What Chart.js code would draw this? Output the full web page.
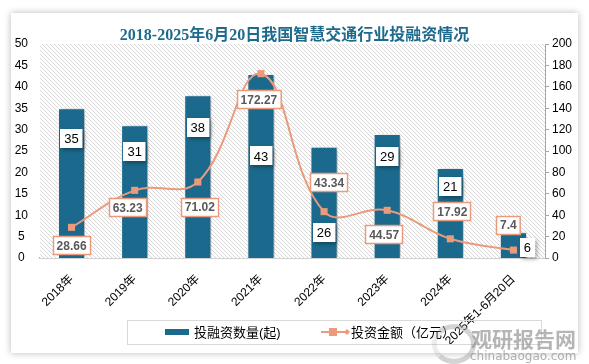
<!DOCTYPE html>
<html>
<head>
<meta charset="utf-8">
<script src="https://cdn.jsdelivr.net/npm/chart.js@4"></script>
<style>
  html, body { margin: 0; padding: 0; background: #ffffff; }
  body { width: 589px; height: 364px; position: relative; overflow: hidden; }
  #card { position: absolute; left: 11px; top: 13px; width: 567px; height: 340px; background: #fff;
          box-shadow: 0 0 7px rgba(0,0,0,0.28); }
  #wm0 { position: absolute; left: 432px; top: 324px; width: 34px; height: 30px; border-radius: 50%;
         border: 5px solid rgba(160,160,160,0.45); border-left-color: rgba(160,160,160,0.2); }
  #wm1 { position: absolute; left: 471px; top: 326px; font: bold 21px/24px "Noto Sans CJK SC"; color: rgba(150,150,150,0.7); }
  #wm2 { position: absolute; left: 470px; top: 350px; font: 12px/13px "DejaVu Sans"; color: rgba(150,150,150,0.75); }
</style>
</head>
<body>
<div id="card"><canvas id="myChart" width="567" height="340"></canvas></div>
<div id="wm0"></div>
<div id="wm1">观研报告网</div>
<div id="wm2">chinabaogao.com</div>
<script>
// chart data
const categories = ['2018年', '2019年', '2020年', '2021年', '2022年', '2023年', '2024年', '2025年1-6月20日'];
const dealCount = [35, 31, 38, 43, 26, 29, 21, 6];
const dealAmount = [28.66, 63.23, 71.02, 172.27, 43.34, 44.57, 17.92, 7.4];
const leftTicks = [0, 5, 10, 15, 20, 25, 30, 35, 40, 45, 50];
const rightTicks = [0, 20, 40, 60, 80, 100, 120, 140, 160, 180, 200];

// label placement (pixels)
const barLabelPos = [[0, 30], [0, 26], [0, 32], [0, 82], [0, 86], [0, 23], [0, 18], [14, 15]];
const lineLabelPos = [[0, 18], [-7, 17], [2, 25], [-2, 26], [5, -29], [-3, 24], [2, -27], [-5, -25]];

const barColor = '#1b6a8d';
const lineColor = '#eb9a7b';
const fontFamily = '"Liberation Sans", "Noto Sans CJK SC", sans-serif';

// striped plot background
function makeStripes(ctx) {
    const p = document.createElement('canvas');
    p.width = 4; p.height = 4;
    const c = p.getContext('2d');
    c.fillStyle = '#fff';
    c.fillRect(0, 0, 4, 4);
    c.strokeStyle = '#d6d6d6';
    c.lineWidth = 1;
    c.beginPath();
    c.moveTo(0, 0); c.lineTo(4, 4);
    c.moveTo(-1, 3); c.lineTo(1, 5);
    c.moveTo(3, -1); c.lineTo(5, 1);
    c.stroke();
    return ctx.createPattern(p, 'repeat');
}

function labelBox(ctx, text, cx, cy, opts) {
    ctx.font = opts.font;
    const w = ctx.measureText(text).width + opts.padX * 2;
    const h = opts.h;
    const x = Math.round(cx - w / 2), y = Math.round(cy - h / 2);
    ctx.save();
    if (opts.shadow) {
        ctx.shadowColor = 'rgba(0,0,0,0.35)';
        ctx.shadowBlur = 4;
        ctx.shadowOffsetX = 2;
        ctx.shadowOffsetY = 2;
    }
    ctx.fillStyle = '#fff';
    ctx.fillRect(x, y, w, h);
    ctx.restore();
    if (opts.border) {
        ctx.strokeStyle = opts.border;
        ctx.lineWidth = 1.5;
        ctx.strokeRect(x + 0.5, y + 0.5, w - 1, h - 1);
    }
    ctx.fillStyle = opts.color;
    ctx.textAlign = 'center';
    ctx.textBaseline = 'middle';
    ctx.fillText(text, cx, cy + 1);
}

const decorPlugin = {
    id: 'decor',
    beforeDatasetsDraw(chart) {
        const { ctx, chartArea: a } = chart;
        ctx.save();
        ctx.fillStyle = makeStripes(ctx);
        ctx.fillRect(a.left, a.top, a.right - a.left, a.bottom - a.top);
        ctx.restore();
    },
    beforeDatasetDraw(chart, args) {
        if (args.index === 0) {
            chart.ctx.save();
            chart.ctx.shadowColor = 'rgba(0,0,0,0.35)';
            chart.ctx.shadowBlur = 5;
            chart.ctx.shadowOffsetX = 2;
            chart.ctx.shadowOffsetY = 1;
        }
    },
    afterDatasetDraw(chart, args) {
        if (args.index === 0) chart.ctx.restore();
    },
    afterDatasetsDraw(chart) {
        const ctx = chart.ctx;
        ctx.save();
        chart.getDatasetMeta(0).data.forEach((bar, i) => {
            labelBox(ctx, String(dealCount[i]), bar.x + barLabelPos[i][0], bar.y + barLabelPos[i][1],
                { font: '13px ' + fontFamily, padX: 4, h: 19, color: '#000', shadow: true });
        });
        chart.getDatasetMeta(1).data.forEach((pt, i) => {
            labelBox(ctx, String(dealAmount[i]), pt.x + lineLabelPos[i][0], pt.y + lineLabelPos[i][1],
                { font: 'bold 12px ' + fontFamily, padX: 4, h: 19, color: '#595959', border: lineColor });
        });
        ctx.restore();
    },
    afterDraw(chart) {
        const ctx = chart.ctx;
        ctx.save();
        // title
        ctx.fillStyle = '#1e6a8d';
        ctx.font = 'bold 16px "Liberation Serif", "Noto Sans CJK SC", serif';
        ctx.textAlign = 'center';
        ctx.textBaseline = 'middle';
        ctx.fillText('2018-2025年6月20日我国智慧交通行业投融资情况', chart.width / 2, 23);
        // legend
        ctx.strokeStyle = '#d9d9d9';
        ctx.lineWidth = 1;
        ctx.strokeRect(116.5, 307.5, 414, 24);
        ctx.fillStyle = barColor;
        ctx.fillRect(154, 316, 24, 6);
        ctx.strokeStyle = lineColor;
        ctx.lineWidth = 2;
        ctx.beginPath();
        ctx.moveTo(310, 319); ctx.lineTo(338, 319);
        ctx.stroke();
        ctx.fillStyle = lineColor;
        ctx.fillRect(318, 315, 8, 8);
        ctx.beginPath();
        ctx.moveTo(336, 316); ctx.lineTo(339, 319); ctx.lineTo(336, 322); ctx.lineTo(333, 319);
        ctx.fill();
        ctx.fillStyle = '#000';
        ctx.font = '13px ' + fontFamily;
        ctx.textAlign = 'left';
        ctx.fillText('投融资数量(起)', 183, 320);
        ctx.fillText('投资金额（亿元）', 340, 320);
        ctx.restore();
    }
};

const ctx = document.getElementById('myChart').getContext('2d');
new Chart(ctx, {
    data: {
        labels: categories,
        datasets: [{
            type: 'bar',
            label: '投融资数量(起)',
            data: dealCount,
            backgroundColor: barColor,
            borderColor: '#ffffff',
            borderWidth: 1,
            barPercentage: 0.43,
            categoryPercentage: 1,
            yAxisID: 'y',
            order: 2
        }, {
            type: 'line',
            label: '投资金额（亿元）',
            data: dealAmount,
            borderColor: lineColor,
            backgroundColor: lineColor,
            borderWidth: 2,
            tension: 0.4,
            pointStyle: 'rect',
            pointRadius: 5,
            pointBorderWidth: 0,
            yAxisID: 'y1',
            order: 1
        }]
    },
    options: {
        responsive: false,
        animation: false,
        layout: { padding: { top: 31, left: 0, right: 0, bottom: 0 } },
        plugins: { legend: { display: false }, tooltip: { enabled: false }, title: { display: false } },
        scales: {
            x: {
                grid: { display: false, drawTicks: false },
                border: { display: true, color: '#a6a6a6', width: 1.5 },
                ticks: { color: '#000', font: { size: 12, family: fontFamily }, minRotation: 45, maxRotation: 45, padding: 14 },
                afterFit(scale) { scale.height = 95; }
            },
            y: {
                position: 'left',
                min: 0, max: 50,
                afterBuildTicks(scale) { scale.ticks = leftTicks.map(v => ({ value: v })); },
                grid: { display: false, drawTicks: false },
                border: { display: false },
                ticks: { color: '#000', font: { size: 12, family: fontFamily }, padding: 12, crossAlign: 'center' },
                afterFit(scale) { scale.width = 29; }
            },
            y1: {
                position: 'right',
                min: 0, max: 200,
                afterBuildTicks(scale) { scale.ticks = rightTicks.map(v => ({ value: v })); },
                grid: { drawOnChartArea: false, drawTicks: true, tickLength: 4, color: '#a6a6a6' },
                border: { display: true, color: '#a6a6a6' },
                ticks: { color: '#000', font: { size: 12, family: fontFamily }, padding: 3 },
                afterFit(scale) { scale.width = 33; }
            }
        }
    },
    plugins: [decorPlugin]
});
</script>
</body>
</html>
